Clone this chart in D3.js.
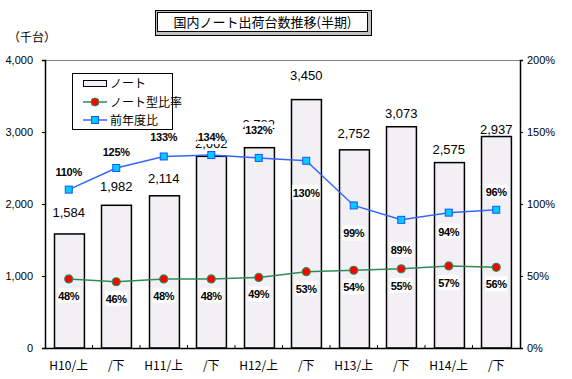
<!DOCTYPE html>
<html><head><meta charset="utf-8">
<script src="https://cdn.jsdelivr.net/npm/d3@7"></script>
<style>
body{margin:0;background:#fff;}
svg{display:block;}
</style></head>
<body>
<svg id="chart" width="572" height="379"></svg>
<script>
// ---- data ----
const categories = ["H10/上","/下","H11/上","/下","H12/上","/下","H13/上","/下","H14/上","/下"];
const units = [1584,1982,2114,2662,2782,3450,2752,3073,2575,2937];          // ノート (千台)
const noteRatio = [48,46,48,48,49,53,54,55,57,56];                         // ノート型比率 (%)
const yoy = [110,125,133,134,132,130,99,89,94,96];                          // 前年度比 (%)
const leftTicks = [0,1000,2000,3000,4000];
const rightTicks = [0,50,100,150,200];
// label layout (pixel gaps between mark and label centre)
const unitLabelGap = [22,19,18,13,24,25,17,14,14,8];
const yoyLabelGap = [-18,-16,-19,-18,-28,32,28,30,19,-18];
const ratioLabelGap = 17;

const svg = d3.select("#chart");
const L = 45, R = 520, T = 60, B = 348;
const jp = "'Noto Sans CJK JP', sans-serif";
const num = "'Liberation Sans', Arial, sans-serif";

const x = d3.scaleBand().domain(d3.range(categories.length)).range([L,R]).paddingInner(0.37).paddingOuter(0.185);
const y = d3.scaleLinear().domain([0,4000]).range([B,T]);
const y2 = d3.scaleLinear().domain([0,200]).range([B,T]);
const cx = i => x(i) + x.bandwidth()/2;

// title box
const tb = svg.append("g");
tb.append("rect").attr("x",155.5).attr("y",10.5).attr("width",216).attr("height",25).attr("fill","#c0c0c0").attr("stroke","#000");
tb.append("rect").attr("x",157.5).attr("y",12.5).attr("width",210).attr("height",19).attr("fill","#fff").attr("stroke","#000");
tb.append("text").attr("x",262.5).attr("y",27).attr("text-anchor","middle").attr("font-family",jp).attr("font-size",13).text("国内ノート出荷台数推移(半期)");

// unit label
svg.append("text").attr("x",8).attr("y",42).attr("font-family",jp).attr("font-size",12).text("（千台）");

// plot frame
svg.append("line").attr("x1",L).attr("x2",R).attr("y1",T+0.5).attr("y2",T+0.5).attr("stroke","#808080");

// bars
svg.append("g").selectAll("rect").data(units).join("rect")
  .attr("x",(d,i)=>Math.round(x(i))+0.5).attr("y",d=>y(d))
  .attr("width",x.bandwidth()).attr("height",d=>B-y(d))
  .attr("fill","#f2f0f4").attr("stroke","#000").attr("stroke-width",1.5);

// axes
const gl = svg.append("g").attr("transform",`translate(${L},0)`)
  .call(d3.axisLeft(y).tickValues(leftTicks).tickSize(3).tickFormat(d3.format(",")));
gl.selectAll("text").attr("font-family",num).attr("font-size",11).attr("fill","#000").attr("x",-12);
const gr = svg.append("g").attr("transform",`translate(${R},0)`)
  .call(d3.axisRight(y2).tickValues(rightTicks).tickSize(3).tickFormat(d=>d+"%"));
gr.selectAll("text").attr("font-family",num).attr("font-size",11).attr("fill","#000").attr("x",7);
const gb = svg.append("g").attr("transform",`translate(0,${B})`)
  .call(d3.axisBottom(d3.scaleLinear().domain([0,categories.length]).range([L,R])).ticks(0).tickSize(0).tickFormat(""));
gb.selectAll("line.tk").data(d3.range(1,categories.length)).join("line").attr("class","tk")
  .attr("x1",i=>L+i*x.step()).attr("x2",i=>L+i*x.step()).attr("y1",0).attr("y2",-3).attr("stroke","#000");
svg.selectAll(".domain").attr("stroke","#000").attr("stroke-width",1.5);
gb.selectAll("text.xl").data(categories).join("text").attr("class","xl")
  .attr("x",(d,i)=>cx(i)).attr("y",22).attr("text-anchor","middle")
  .attr("font-family",jp).attr("font-size",12).attr("fill","#000").text(d=>d);

// bar value labels
svg.append("g").selectAll("text").data(units).join("text")
  .attr("x",(d,i)=>cx(i)).attr("y",(d,i)=>y(d)-unitLabelGap[i]+5)
  .attr("text-anchor","middle").attr("font-family",num).attr("font-size",13).text(d=>d3.format(",")(d));

// lines
const lineRatio = d3.line().x((d,i)=>cx(i)).y(d=>y2(d));
svg.append("path").datum(noteRatio).attr("d",lineRatio).attr("fill","none").attr("stroke","#2e8b57").attr("stroke-width",1.5);
svg.append("path").datum(yoy).attr("d",lineRatio).attr("fill","none").attr("stroke","#3366ff").attr("stroke-width",1.5);

svg.append("g").selectAll("circle").data(noteRatio).join("circle")
  .attr("cx",(d,i)=>cx(i)).attr("cy",d=>y2(d)).attr("r",4).attr("fill","#ff0000").attr("stroke","#2e8b57").attr("stroke-width",1.2);
svg.append("g").selectAll("rect").data(yoy).join("rect")
  .attr("x",(d,i)=>cx(i)-3.5).attr("y",d=>y2(d)-3.5).attr("width",7).attr("height",7)
  .attr("fill","#00ccff").attr("stroke","#1a53ff").attr("stroke-width",1);

// percent labels with white background
function pctLabels(data, gapFn){
  const g = svg.append("g");
  data.forEach((d,i)=>{
    const yy = y2(d)+gapFn(i);
    const t = d+"%";
    const w = t.length*6+4;
    g.append("rect").attr("x",cx(i)-w/2).attr("y",yy-8).attr("width",w).attr("height",15).attr("fill","#fff");
    g.append("text").attr("x",cx(i)).attr("y",yy+4).attr("text-anchor","middle")
      .attr("font-family",num).attr("font-size",11).attr("font-weight","bold").attr("letter-spacing",-0.3).text(t);
  });
}
pctLabels(yoy, i=>yoyLabelGap[i]);
pctLabels(noteRatio, i=>ratioLabelGap);

// legend
const lg = svg.append("g");
lg.append("rect").attr("x",72.5).attr("y",73.5).attr("width",100).attr("height",56).attr("fill","#fff").attr("stroke","#000");
lg.append("rect").attr("x",83.5).attr("y",80.5).attr("width",23).attr("height",6).attr("fill","#f2f0f4").attr("stroke","#000");
lg.append("text").attr("x",110).attr("y",88).attr("font-family",jp).attr("font-size",12).text("ノート");
lg.append("line").attr("x1",83).attr("x2",107).attr("y1",102).attr("y2",102).attr("stroke","#2e8b57").attr("stroke-width",1.5);
lg.append("circle").attr("cx",95).attr("cy",102).attr("r",4).attr("fill","#ff0000").attr("stroke","#2e8b57");
lg.append("text").attr("x",110).attr("y",106.5).attr("font-family",jp).attr("font-size",12).text("ノート型比率");
lg.append("line").attr("x1",83).attr("x2",107).attr("y1",120).attr("y2",120).attr("stroke","#3366ff").attr("stroke-width",1.5);
lg.append("rect").attr("x",91.5).attr("y",116.5).attr("width",7).attr("height",7).attr("fill","#00ccff").attr("stroke","#1a53ff");
lg.append("text").attr("x",110).attr("y",124.5).attr("font-family",jp).attr("font-size",12).text("前年度比");
</script>
</body></html>
